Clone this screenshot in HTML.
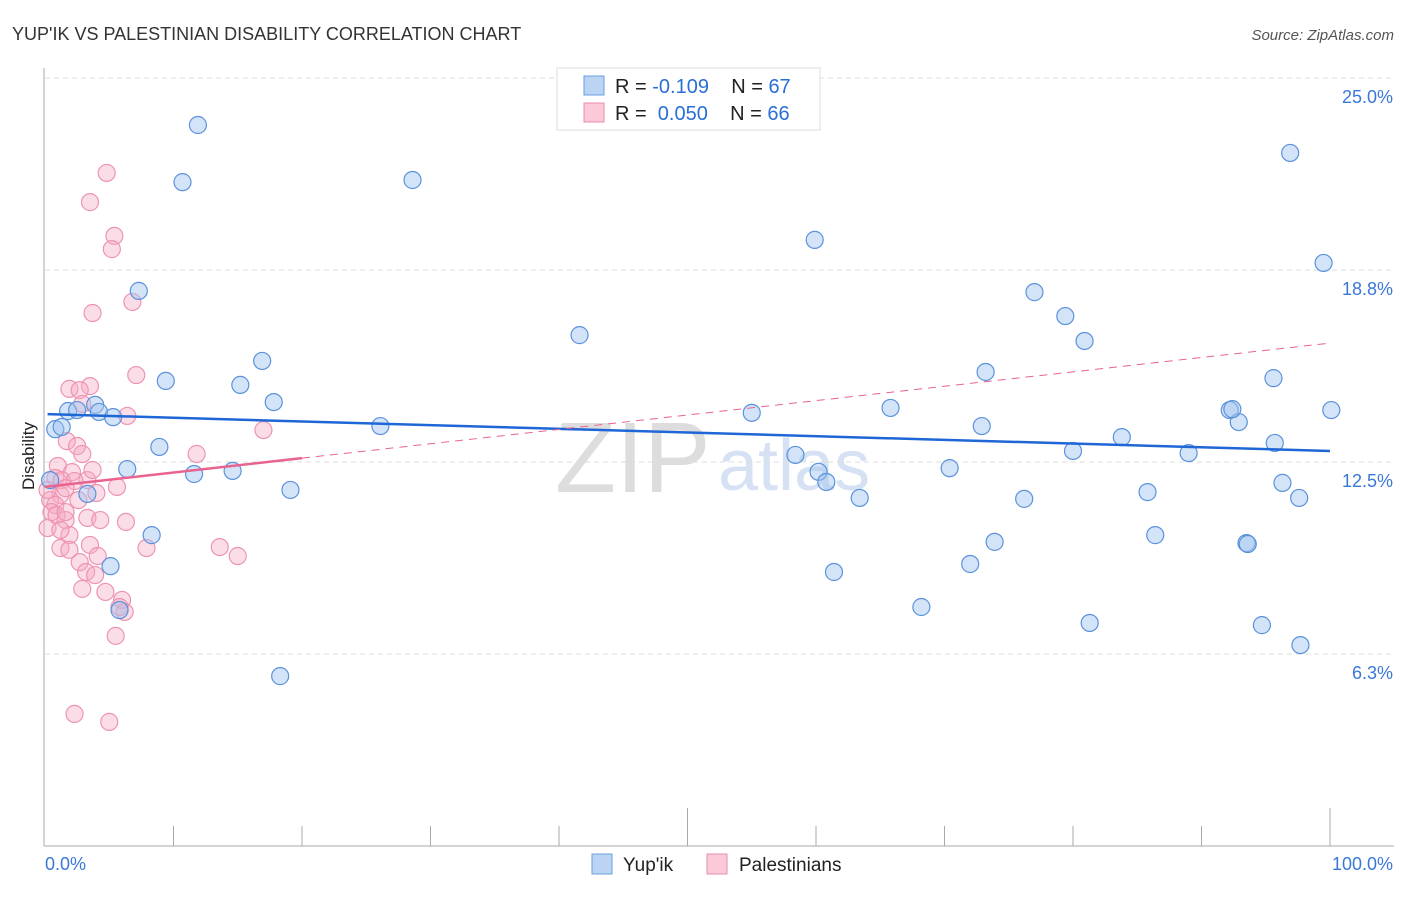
<!DOCTYPE html><html><head><meta charset="utf-8"><style>
body{margin:0;background:#fff;font-family:"Liberation Sans",sans-serif}
svg text{font-family:"Liberation Sans",sans-serif}
</style></head><body>
<svg width="1406" height="892" id="c">
<text x="12" y="40" font-size="18" fill="#333">YUP'IK VS PALESTINIAN DISABILITY CORRELATION CHART</text>
<text x="1394" y="40" font-size="15" fill="#555" font-style="italic" text-anchor="end">Source: ZipAtlas.com</text>
<text x="555" y="492" font-size="100" fill="#ddd" font-family="Liberation Serif">ZIP</text>
<text x="718" y="490" font-size="72" fill="#d6e2f3">atlas</text>
<text x="34" y="456" font-size="17" fill="#222" text-anchor="middle" transform="rotate(-90 34 456)">Disability</text>
<g id="grid"></g><g id="pts"></g><g id="lines"></g>
<g>
<rect x="557" y="68" width="263" height="62" fill="#fff" stroke="#ddd"/>
<rect x="584" y="76" width="20" height="19" fill="#bcd4f4" stroke="#6a9de0"/>
<rect x="584" y="103" width="20" height="19" fill="#fbc9d8" stroke="#ec8cab"/>
<text x="615" y="93" font-size="20" fill="#222" xml:space="preserve">R = <tspan fill="#2a6fd6">-0.109</tspan>    N = <tspan fill="#2a6fd6">67</tspan></text>
<text x="615" y="120" font-size="20" fill="#222" xml:space="preserve">R =  <tspan fill="#2a6fd6">0.050</tspan>    N = <tspan fill="#2a6fd6">66</tspan></text>
</g>
<g>
<rect x="592" y="854" width="20" height="20" fill="#bcd4f4" stroke="#6a9de0"/>
<text x="623" y="871" font-size="19" fill="#222">Yup'ik</text>
<rect x="707" y="854" width="20" height="20" fill="#fbc9d8" stroke="#ec8cab"/>
<text x="739" y="871" font-size="19" fill="#222">Palestinians</text>
</g>
</svg>
<script>
const yTicks=[25.0,18.8,12.5,6.3];
const yTickVals=[25,18.75,12.5,6.25];
const xTickLabels=["0.0%","100.0%"];
const yupikX=[11.9,10.7,28.6,50.0,59.9,96.9,99.5,7.3,41.6,77.0,79.4,80.9,16.9,9.4,15.2,73.2,95.6,17.8,0.8,1.3,1.8,2.5,3.9,4.2,5.3,55.0,65.8,92.2,100.1,92.9,26.1,72.9,83.8,95.7,8.9,58.4,80.0,89.0,6.4,11.6,14.6,60.2,60.8,70.4,96.3,3.3,19.1,63.4,76.2,85.8,97.6,8.3,73.9,86.4,93.5,93.6,5.1,61.4,72.0,68.2,5.8,81.3,94.7,97.7,18.3,0.4,92.4];
const yupikY=[23.47,21.61,21.68,23.60,19.73,22.56,18.98,18.07,16.63,18.03,17.25,16.44,15.79,15.14,15.01,15.43,15.23,14.45,13.57,13.64,14.16,14.19,14.36,14.13,13.96,14.10,14.26,14.19,14.19,13.80,13.67,13.67,13.31,13.12,12.99,12.73,12.86,12.79,12.27,12.11,12.21,12.18,11.85,12.30,11.82,11.46,11.59,11.33,11.30,11.52,11.33,10.12,9.90,10.12,9.86,9.83,9.11,8.92,9.18,7.78,7.68,7.26,7.19,6.54,5.53,11.91,14.22];
const palX=[4.8,3.5,5.4,5.2,6.8,3.7,7.1,1.9,3.5,2.7,2.9,6.4,17.0,1.7,2.5,2.9,11.8,1.0,2.1,3.3,0.8,1.3,2.3,5.6,4.0,1.2,0.4,0.8,0.5,0.9,1.6,3.3,6.3,1.6,0.2,1.9,3.5,1.2,1.9,4.1,13.6,7.9,15.0,2.7,3.2,3.9,2.9,4.7,6.0,6.2,5.5,2.3,5.0,5.8,1.2,2.6,1.6,3.7,0.2,4.3];
const palY=[21.91,20.96,19.86,19.43,17.71,17.35,15.33,14.88,14.97,14.84,14.39,14.00,13.54,13.18,13.02,12.76,12.76,12.37,12.17,11.91,11.98,11.91,11.88,11.69,11.49,11.43,11.26,11.10,10.87,10.77,10.61,10.68,10.55,10.87,10.35,10.12,9.80,9.70,9.64,9.44,9.73,9.70,9.44,9.24,8.92,8.82,8.37,8.27,8.01,7.62,6.84,4.30,4.04,7.78,10.29,11.26,11.65,12.24,11.59,10.61];
const trendYupik=[14.06,12.86];
const trendPal=[11.69,16.37];
const ns="http://www.w3.org/2000/svg";
const X=v=>45+v*12.85, Y=v=>78+(25-v)*30.72;
function mk(t,a,p){const e=document.createElementNS(ns,t);for(const k in a)e.setAttribute(k,a[k]);p.appendChild(e);return e;}
const g=document.getElementById('grid');
mk('line',{x1:44,y1:68,x2:44,y2:846,stroke:'#aaa'},g);
mk('line',{x1:44,y1:846,x2:1394,y2:846,stroke:'#aaa'},g);
for(let i=1;i<=10;i++){const l=mk('line',{x1:45+i*128.5,y1:i%5==0?808:826,x2:45+i*128.5,y2:846,stroke:'#aaa'},g);

}
yTickVals.forEach((v,i)=>{const l=mk('line',{x1:45,y1:Y(v),x2:1394,y2:Y(v),stroke:'#ddd','stroke-dasharray':'5,4'},g);


const t=mk('text',{x:1393,y:Y(v)+25,'text-anchor':'end','font-size':18,fill:'#3a78d8'},g);t.textContent=yTicks[i].toFixed(1)+'%';

});
xTickLabels.forEach((s,i)=>{const t=mk('text',{x:i?1393:45,y:870,'text-anchor':i?'end':'start','font-size':18,fill:'#3a78d8'},g);t.textContent=s;

});
const p=document.getElementById('pts');
palX.forEach((x,i)=>{const e=mk('circle',{cx:X(x),cy:Y(palY[i]),r:8.5,fill:'rgba(246,170,195,0.4)',stroke:'#ee94b2','stroke-width':1.2},p);

});
yupikX.forEach((x,i)=>{const e=mk('circle',{cx:X(x),cy:Y(yupikY[i]),r:8.5,fill:'rgba(160,195,240,0.45)',stroke:'#5b92dc','stroke-width':1.2},p);

});
const L=document.getElementById('lines');
let e=mk('line',{x1:X(0.2),y1:Y(trendYupik[0]+(trendYupik[1]-trendYupik[0])*0.002),x2:X(100),y2:Y(trendYupik[1]),stroke:'#1f66d6','stroke-width':2.5},L);


const pf=v=>trendPal[0]+(trendPal[1]-trendPal[0])*v/100;
e=mk('line',{x1:X(0),y1:Y(pf(0)),x2:X(20),y2:Y(pf(20)),stroke:'#e8638f','stroke-width':2.5},L);


e=mk('line',{x1:X(20),y1:Y(pf(20)),x2:X(100),y2:Y(pf(100)),stroke:'#e8638f','stroke-width':1,'stroke-dasharray':'8,6'},L);


</script>
</body></html>
